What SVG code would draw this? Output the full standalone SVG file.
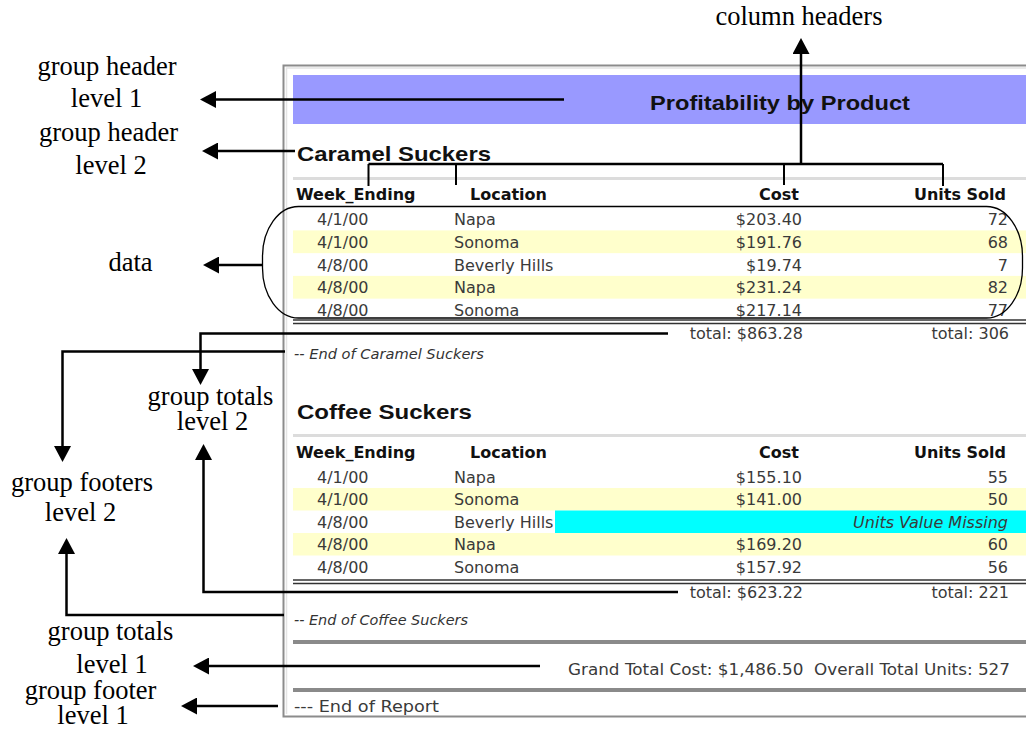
<svg xmlns="http://www.w3.org/2000/svg" width="1026" height="729" viewBox="0 0 1026 729">
  <style>
    .lbl { font-family: "Liberation Serif", "Times New Roman", serif; font-size: 26.5px; fill: #000; text-anchor: middle; }
    .d { font-family: "DejaVu Sans", Verdana, sans-serif; font-size: 16px; fill: #3a3a3a; }
    .h { font-family: "DejaVu Sans", Verdana, sans-serif; font-size: 16px; font-weight: bold; fill: #111; }
    .g { font-family: "Liberation Sans", Arial, sans-serif; font-size: 21px; font-weight: bold; fill: #111; }
    .it { font-family: "DejaVu Sans", Verdana, sans-serif; font-size: 14.5px; font-style: italic; fill: #333; }
    .end { text-anchor: end; }
    .conn { fill: none; stroke: #000; stroke-width: 2.5; }
    .tick { fill: none; stroke: #000; stroke-width: 2; }
    .band { fill: #ffffcc; }
    .dbl { stroke: #333; stroke-width: 1.5; }
    .sep { stroke: #dcdcdc; stroke-width: 3; }
    .rule { stroke: #8a8a8a; stroke-width: 4; }
  </style>
  <defs>
    <marker id="arrow" markerUnits="userSpaceOnUse" markerWidth="16" markerHeight="17" refX="8" refY="8.5" orient="auto">
      <path d="M0,0 L16,8.5 L0,17 Z" fill="#000"/>
    </marker>
  </defs>

  <rect width="1026" height="729" fill="#fff"/>

  <!-- report page -->
  <g id="report">
    <path d="M1026,65.5 H283.5 V716.5 H1026" fill="none" stroke="#8c8c8c" stroke-width="2"/>
    <path d="M1026,68 H286.5 V714" fill="none" stroke="#e4e4e4" stroke-width="1.5"/>

    <g id="title-bar">
      <rect x="293" y="75" width="733" height="49" fill="#9999ff"/>
      <text class="g" x="650" y="110" font-size="20" textLength="260" lengthAdjust="spacingAndGlyphs">Profitability by Product</text>
    </g>

    <!-- group: Caramel Suckers -->
    <g id="group-caramel">
      <text class="g" x="297" y="161" textLength="194" lengthAdjust="spacingAndGlyphs">Caramel Suckers</text>
      <line class="sep" x1="293" y1="178.5" x2="1026" y2="178.5"/>
      <text class="h" x="296" y="200">Week_Ending</text>
      <text class="h" x="470" y="200">Location</text>
      <text class="h end" x="799" y="200">Cost</text>
      <text class="h end" x="1006" y="200">Units Sold</text>

      <rect class="band" x="293" y="230.4" width="733" height="22.75"/>
      <rect class="band" x="293" y="275.9" width="733" height="22.75"/>

      <text class="d" x="317" y="225">4/1/00</text>
      <text class="d" x="454" y="225">Napa</text>
      <text class="d end" x="802" y="225">$203.40</text>
      <text class="d end" x="1008" y="225">72</text>

      <text class="d" x="317" y="247.75">4/1/00</text>
      <text class="d" x="454" y="247.75">Sonoma</text>
      <text class="d end" x="802" y="247.75">$191.76</text>
      <text class="d end" x="1008" y="247.75">68</text>

      <text class="d" x="317" y="270.5">4/8/00</text>
      <text class="d" x="454" y="270.5">Beverly Hills</text>
      <text class="d end" x="802" y="270.5">$19.74</text>
      <text class="d end" x="1008" y="270.5">7</text>

      <text class="d" x="317" y="293.25">4/8/00</text>
      <text class="d" x="454" y="293.25">Napa</text>
      <text class="d end" x="802" y="293.25">$231.24</text>
      <text class="d end" x="1008" y="293.25">82</text>

      <text class="d" x="317" y="316">4/8/00</text>
      <text class="d" x="454" y="316">Sonoma</text>
      <text class="d end" x="802" y="316">$217.14</text>
      <text class="d end" x="1008" y="316">77</text>

      <line class="dbl" x1="293" y1="320" x2="1026" y2="320"/>
      <line class="dbl" x1="293" y1="323.5" x2="1026" y2="323.5"/>
      <text class="d end" x="803" y="339">total: $863.28</text>
      <text class="d end" x="1009" y="339">total: 306</text>
      <text class="it" x="294" y="359" textLength="190" lengthAdjust="spacingAndGlyphs">-- End of Caramel Suckers</text>
    </g>

    <!-- group: Coffee Suckers -->
    <g id="group-coffee">
      <text class="g" x="297" y="418.5" textLength="175" lengthAdjust="spacingAndGlyphs">Coffee Suckers</text>
      <line class="sep" x1="293" y1="435.5" x2="1026" y2="435.5"/>
      <text class="h" x="296" y="457.5">Week_Ending</text>
      <text class="h" x="470" y="457.5">Location</text>
      <text class="h end" x="799" y="457.5">Cost</text>
      <text class="h end" x="1006" y="457.5">Units Sold</text>

      <rect class="band" x="293" y="488" width="733" height="22.5"/>
      <rect x="555" y="510.5" width="471" height="22.5" fill="#00ffff"/>
      <rect class="band" x="293" y="533" width="733" height="22.5"/>

      <text class="d" x="317" y="482.5">4/1/00</text>
      <text class="d" x="454" y="482.5">Napa</text>
      <text class="d end" x="802" y="482.5">$155.10</text>
      <text class="d end" x="1008" y="482.5">55</text>

      <text class="d" x="317" y="505">4/1/00</text>
      <text class="d" x="454" y="505">Sonoma</text>
      <text class="d end" x="802" y="505">$141.00</text>
      <text class="d end" x="1008" y="505">50</text>

      <text class="d" x="317" y="527.5">4/8/00</text>
      <text class="d" x="454" y="527.5">Beverly Hills</text>
      <text class="d end" x="1008" y="527.5" font-style="italic" fill="#1a1a4a">Units Value Missing</text>

      <text class="d" x="317" y="550">4/8/00</text>
      <text class="d" x="454" y="550">Napa</text>
      <text class="d end" x="802" y="550">$169.20</text>
      <text class="d end" x="1008" y="550">60</text>

      <text class="d" x="317" y="572.5">4/8/00</text>
      <text class="d" x="454" y="572.5">Sonoma</text>
      <text class="d end" x="802" y="572.5">$157.92</text>
      <text class="d end" x="1008" y="572.5">56</text>

      <line class="dbl" x1="293" y1="580" x2="1026" y2="580"/>
      <line class="dbl" x1="293" y1="583.5" x2="1026" y2="583.5"/>
      <text class="d end" x="803" y="598">total: $623.22</text>
      <text class="d end" x="1009" y="598">total: 221</text>
      <text class="it" x="294" y="625" textLength="174" lengthAdjust="spacingAndGlyphs">-- End of Coffee Suckers</text>
    </g>

    <!-- report footer -->
    <g id="report-footer">
      <line class="rule" x1="293" y1="642" x2="1026" y2="642"/>
      <text class="d" x="568" y="675" xml:space="preserve" textLength="442" lengthAdjust="spacingAndGlyphs">Grand Total Cost: $1,486.50  Overall Total Units: 527</text>
      <line class="rule" x1="293" y1="690" x2="1026" y2="690"/>
      <text class="d" x="294" y="712" font-size="17" textLength="145" lengthAdjust="spacingAndGlyphs">--- End of Report</text>
    </g>
  </g>

  <!-- data outline -->
  <g id="data-outline">
    <rect x="262.5" y="206.5" width="760" height="111.5" rx="36" ry="50" fill="none" stroke="#000" stroke-width="1.3"/>
  </g>

  <!-- callout labels -->
  <g id="lbl-column-headers"><text class="lbl" x="799" y="25">column headers</text></g>
  <g id="lbl-group-header-1"><text class="lbl" x="107" y="75">group header</text><text class="lbl" x="106.5" y="107">level 1</text></g>
  <g id="lbl-group-header-2"><text class="lbl" x="108.5" y="141">group header</text><text class="lbl" x="111" y="174">level 2</text></g>
  <g id="lbl-data"><text class="lbl" x="130.5" y="271">data</text></g>
  <g id="lbl-group-totals-2"><text class="lbl" x="210.5" y="405">group totals</text><text class="lbl" x="212.5" y="430">level 2</text></g>
  <g id="lbl-group-footers-2"><text class="lbl" x="82" y="491">group footers</text><text class="lbl" x="80.5" y="521">level 2</text></g>
  <g id="lbl-group-totals-1"><text class="lbl" x="110.5" y="640">group totals</text><text class="lbl" x="112" y="673">level 1</text></g>
  <g id="lbl-group-footer-1"><text class="lbl" x="90.5" y="699">group footer</text><text class="lbl" x="93" y="724">level 1</text></g>

  <!-- connectors -->
  <g id="connectors">
    <path class="conn" d="M564,99.5 H208" marker-end="url(#arrow)"/>
    <path class="conn" d="M295,151 H210" marker-end="url(#arrow)"/>
    <path class="conn" d="M262.5,265 H211" marker-end="url(#arrow)"/>
    <path class="conn" d="M801,164 V46" marker-end="url(#arrow)"/>
    <path class="conn" d="M368.5,164 H943"/>
    <path class="tick" d="M368.5,164 V186 M456,164 V185 M784,164 V185 M943,164 V186"/>
    <path class="conn" d="M668,333.5 H200.5 V377" marker-end="url(#arrow)"/>
    <path class="conn" d="M285,351.5 H62.5 V454" marker-end="url(#arrow)"/>
    <path class="conn" d="M678,592 H203.5 V452" marker-end="url(#arrow)"/>
    <path class="conn" d="M284,615 H66.5 V546" marker-end="url(#arrow)"/>
    <path class="conn" d="M540,666 H201" marker-end="url(#arrow)"/>
    <path class="conn" d="M278,706 H189" marker-end="url(#arrow)"/>
  </g>
</svg>
